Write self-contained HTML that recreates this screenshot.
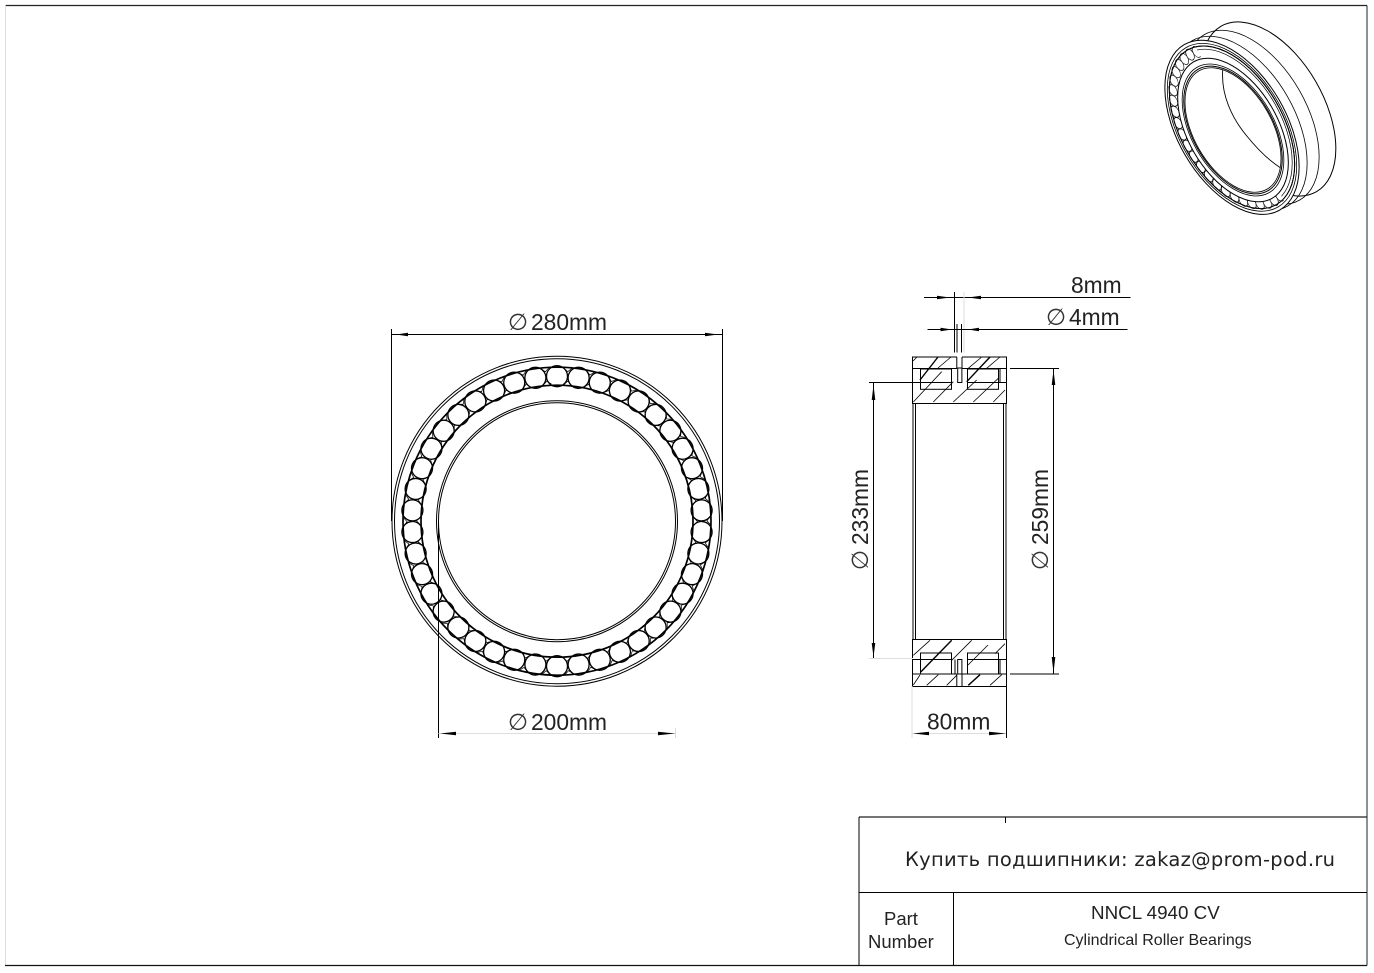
<!DOCTYPE html>
<html><head><meta charset="utf-8"><title>NNCL 4940 CV</title>
<style>
html,body{margin:0;padding:0;background:#fff;width:1374px;height:973px;overflow:hidden}
svg{display:block}
text{font-family:"Liberation Sans",sans-serif;fill:#222}
.d{font-size:22.8px}
.p{font-family:"DejaVu Sans",sans-serif;font-size:23px;fill:#333}
.n *{vector-effect:non-scaling-stroke}
line,path,rect,circle,ellipse{stroke:#000;stroke-width:1;fill:none}
.a{fill:#000;stroke:none}
.f{stroke:#ddd}
.h line{stroke-width:.8}
.h .b{stroke-width:1.4}
</style></head><body>
<svg width="1374" height="973" viewBox="0 0 1374 973" xmlns="http://www.w3.org/2000/svg">
<defs>
<g id="r"><circle cx="0" cy="-145" r="10.5" style="fill:#fff;stroke-width:1.3"/><path d="M6.5-153.5 10.8-149.5 15-153M6.5-136.5 10.8-140 15-136.5" style="stroke-width:.7"/></g>
<g id="rs">
<use href="#r"/><use href="#r" transform="rotate(8.571)"/><use href="#r" transform="rotate(17.143)"/><use href="#r" transform="rotate(25.714)"/><use href="#r" transform="rotate(34.286)"/><use href="#r" transform="rotate(42.857)"/><use href="#r" transform="rotate(51.429)"/>
<use href="#r" transform="rotate(60)"/><use href="#r" transform="rotate(68.571)"/><use href="#r" transform="rotate(77.143)"/><use href="#r" transform="rotate(85.714)"/><use href="#r" transform="rotate(94.286)"/><use href="#r" transform="rotate(102.857)"/><use href="#r" transform="rotate(111.429)"/>
<use href="#r" transform="rotate(120)"/><use href="#r" transform="rotate(128.571)"/><use href="#r" transform="rotate(137.143)"/><use href="#r" transform="rotate(145.714)"/><use href="#r" transform="rotate(154.286)"/><use href="#r" transform="rotate(162.857)"/><use href="#r" transform="rotate(171.429)"/>
<use href="#r" transform="rotate(180)"/><use href="#r" transform="rotate(188.571)"/><use href="#r" transform="rotate(197.143)"/><use href="#r" transform="rotate(205.714)"/><use href="#r" transform="rotate(214.286)"/><use href="#r" transform="rotate(222.857)"/><use href="#r" transform="rotate(231.429)"/>
<use href="#r" transform="rotate(240)"/><use href="#r" transform="rotate(248.571)"/><use href="#r" transform="rotate(257.143)"/><use href="#r" transform="rotate(265.714)"/><use href="#r" transform="rotate(274.286)"/><use href="#r" transform="rotate(282.857)"/><use href="#r" transform="rotate(291.429)"/>
<use href="#r" transform="rotate(300)"/><use href="#r" transform="rotate(308.571)"/><use href="#r" transform="rotate(317.143)"/><use href="#r" transform="rotate(325.714)"/><use href="#r" transform="rotate(334.286)"/><use href="#r" transform="rotate(342.857)"/><use href="#r" transform="rotate(351.429)"/>
</g>
<clipPath id="cr"><rect x="-170" y="-170" width="195" height="340"/></clipPath>
</defs>

<!-- frame -->
<line x1="5.5" y1="5.5" x2="1367" y2="5.5" style="stroke:#222;stroke-width:1.3"/>
<line x1="5.5" y1="5.5" x2="5.5" y2="965.5" style="stroke:#ddd"/>
<line x1="5" y1="965.5" x2="1367" y2="965.5" style="stroke:#111;stroke-width:1.3"/>
<line x1="1367" y1="5.5" x2="1367" y2="965.5" style="stroke:#222"/>

<!-- front view -->
<g transform="translate(557,521.2)">
<circle r="165"/><circle r="162.5"/>
<use href="#rs"/>
<circle r="154" style="stroke-width:1.7"/><circle r="136" style="stroke-width:1.7"/>
<circle r="120.5"/><circle r="118.5"/>
</g>

<!-- dim 280 -->
<line x1="391.5" y1="329" x2="391.5" y2="521"/><line x1="722.5" y1="329" x2="722.5" y2="521"/>
<line x1="391.5" y1="334.5" x2="722.5" y2="334.5"/>
<path class="a" d="M396 334.5 408 332.7V336.3ZM718 334.5 705 332.7V336.3Z"/>
<text x="531" y="330" class="d">280mm</text>
<text x="508" y="330" class="p">∅</text>

<!-- dim 200 -->
<line x1="438.5" y1="521" x2="438.5" y2="738"/>
<line x1="438.5" y1="733.5" x2="675" y2="733.5" class="f"/>
<line x1="675.5" y1="728" x2="675.5" y2="738" class="f"/>
<path class="a" d="M440 733.5 456 731.7V735.3ZM675 733.5 658 731.7V735.3Z"/>
<text x="531" y="730" class="d">200mm</text>
<text x="508" y="730" class="p">∅</text>

<!-- side view -->
<rect x="912.5" y="357" width="94" height="46.5"/>
<rect x="912.5" y="639.5" width="94" height="47"/>
<line x1="913" y1="403" x2="913" y2="640"/><line x1="915.5" y1="403" x2="915.5" y2="640"/>
<line x1="1003.5" y1="403" x2="1003.5" y2="640"/><line x1="1006" y1="403" x2="1006" y2="640"/>

<g class="h">
<line x1="913" y1="361" x2="917" y2="357"/>
<line class="b" x1="920" y1="380" x2="938" y2="357"/>
<line x1="913.3" y1="402" x2="941.7" y2="371.7"/>
<line x1="933.3" y1="402" x2="953.3" y2="381.7"/>
<line x1="953.3" y1="402" x2="976.7" y2="380"/>
<line x1="968.3" y1="368.3" x2="981.7" y2="357"/>
<line class="b" x1="966.7" y1="381.7" x2="990" y2="357"/>
<line x1="973.3" y1="402" x2="998.3" y2="378.3"/>
<line x1="993.3" y1="402" x2="1005" y2="390"/>
<line x1="986.7" y1="368.3" x2="1000" y2="357"/>
<line x1="938" y1="368" x2="951" y2="357"/>
<line x1="913.3" y1="655.3" x2="930" y2="640.3"/>
<line class="b" x1="920.7" y1="672" x2="951.7" y2="640.3"/>
<line x1="951.7" y1="660.3" x2="971.7" y2="640.3"/>
<line x1="968" y1="665" x2="988" y2="645"/>
<line x1="995" y1="653.7" x2="1005" y2="643.7"/>
<line x1="913.3" y1="685" x2="920" y2="675"/>
<line x1="926.7" y1="685.3" x2="938.3" y2="674.7"/>
<line x1="946.7" y1="685.3" x2="956.7" y2="675.3"/>
<line class="b" x1="968.3" y1="685.3" x2="980" y2="674.7"/>
<line x1="990" y1="685.3" x2="1001.7" y2="674.7"/>
</g>

<!-- top section details -->
<rect x="957" y="356" width="5" height="13" style="fill:#fff;stroke:none"/>
<rect x="957.7" y="368" width="4.2" height="14.5" style="fill:#fff"/>
<line x1="956.8" y1="357" x2="956.8" y2="368.5"/><line x1="962" y1="357" x2="962" y2="368.5"/>
<line x1="912.5" y1="368.5" x2="957" y2="368.5"/><line x1="962" y1="368.5" x2="1006" y2="368.5"/>
<line x1="912.5" y1="382.5" x2="952" y2="382.5"/><line x1="967" y1="382.5" x2="1006" y2="382.5"/>
<rect x="920.5" y="369" width="31" height="20.3"/><rect x="967.5" y="369" width="31" height="20.3"/>
<line x1="1000" y1="368.5" x2="1000" y2="382.5"/>

<!-- bottom section details -->
<rect x="957" y="674" width="5" height="12" style="fill:#fff;stroke:none"/>
<rect x="957.7" y="659.5" width="4.2" height="14.5" style="fill:#fff"/>
<line x1="956.8" y1="674" x2="956.8" y2="686"/><line x1="962" y1="674" x2="962" y2="686"/>
<line x1="912.5" y1="659.5" x2="952" y2="659.5"/><line x1="967" y1="659.5" x2="1006" y2="659.5"/>
<line x1="912.5" y1="674" x2="957" y2="674"/><line x1="962" y1="674" x2="1006" y2="674"/>
<rect x="920.5" y="653" width="31" height="21"/><rect x="967.5" y="653" width="31" height="21"/>
<line x1="1000" y1="659.5" x2="1000" y2="674"/>
<line x1="955" y1="659.5" x2="955" y2="674"/>

<!-- dim 8 / 4 -->
<line x1="924" y1="297.5" x2="1130.5" y2="297.5"/>
<line x1="954.5" y1="292" x2="954.5" y2="352.5"/>
<line x1="964" y1="292" x2="964" y2="352.5" class="f"/>
<path class="a" d="M950 297.5 937 295.7V299.3ZM968 297.5 981 295.7V299.3Z"/>
<text x="1071" y="293" class="d">8mm</text>
<line x1="927.5" y1="329.5" x2="1127.5" y2="329.5"/>
<line x1="957" y1="324" x2="957" y2="352.5"/><line x1="961.5" y1="324" x2="961.5" y2="352.5"/>
<path class="a" d="M952 329.5 940.5 327.7V331.3ZM968 329.5 979 327.7V331.3Z"/>
<text x="1069" y="325" class="d">4mm</text>
<text x="1046" y="325" class="p">∅</text>

<!-- dim 233 -->
<line x1="869" y1="382.5" x2="952" y2="382.5"/>
<line x1="869" y1="658.5" x2="913" y2="658.5" class="f"/>
<line x1="873.5" y1="383" x2="873.5" y2="658"/>
<path class="a" d="M873.5 385 871.7 400H875.3ZM873.5 657 871.7 643H875.3Z"/>
<text transform="translate(868,545) rotate(-90)" class="d">233mm</text>
<text transform="translate(868,570) rotate(-90)" class="p">∅</text>

<!-- dim 259 -->
<line x1="1010" y1="368.5" x2="1059" y2="368.5"/>
<line x1="1010" y1="674" x2="1059" y2="674"/>
<line x1="1053.5" y1="368.5" x2="1053.5" y2="674"/>
<path class="a" d="M1053.5 370 1051.7 385H1055.3ZM1053.5 673 1051.7 657H1055.3Z"/>
<text transform="translate(1048,545) rotate(-90)" class="d">259mm</text>
<text transform="translate(1048,570) rotate(-90)" class="p">∅</text>

<!-- dim 80 -->
<line x1="912" y1="686" x2="912" y2="738" class="f"/>
<line x1="1006.5" y1="686" x2="1006.5" y2="738"/>
<line x1="912" y1="733.5" x2="1006" y2="733.5" class="f"/>
<path class="a" d="M913 733.5 929 731.7V735.3ZM1006 733.5 989 731.7V735.3Z"/>
<text x="927" y="729.5" class="d">80mm</text>

<!-- isometric view -->
<g class="n" transform="translate(1268.7,109) rotate(-30) scale(.3303,.5788)"><circle r="165" style="fill:#fff"/></g>
<g class="n" transform="translate(1252,117.3) rotate(-30) scale(.3303,.5788)"><circle r="165" style="stroke-width:.8"/></g>
<g class="n" transform="translate(1240,123.3) rotate(-30) scale(.3303,.5788)"><circle r="165" style="stroke-width:.8"/></g>
<g class="n" transform="translate(1232,127.3) rotate(-30) scale(.3303,.5788)">
<circle r="165" style="fill:#fff"/><circle r="159" style="stroke-width:.8"/>
<circle r="154" style="fill:#fff"/>
<circle r="148" style="stroke-width:.7"/>
<g clip-path="url(#cr)" style="stroke-width:.6"><use href="#rs"/></g>
<circle r="154"/>
</g>
<g class="n" transform="translate(1233,130) rotate(-30) scale(.3303,.5788)">
<circle r="136" style="fill:#fff"/>
<circle r="125" style="stroke-width:.8"/><circle r="121" style="fill:#fff"/><circle r="118" style="stroke-width:.8"/>
</g>
<path d="M1222.7 70C1221 95 1232 118 1246 135 1258 150 1270 161 1280 167.5" style="stroke-width:.9"/>

<!-- title block -->
<line x1="859" y1="817" x2="1367" y2="817" style="stroke:#222;stroke-width:1.2"/>
<line x1="859" y1="817" x2="859" y2="965"/>
<line x1="859" y1="892.5" x2="1367" y2="892.5" style="stroke-width:.9"/>
<line x1="953.5" y1="892.5" x2="953.5" y2="965"/>
<line x1="1005.5" y1="817" x2="1005.5" y2="823"/>
<text x="905" y="866" textLength="430" lengthAdjust="spacing" style="font-family:'DejaVu Sans',sans-serif;font-size:19.5px">Купить подшипники: zakaz@prom-pod.ru</text>
<text x="884" y="925" style="font-size:18.5px">Part</text>
<text x="868" y="948" style="font-size:18.5px">Number</text>
<text x="1091" y="919" style="font-size:18.8px">NNCL 4940 CV</text>
<text x="1064" y="945" style="font-size:16px">Cylindrical Roller Bearings</text>
</svg>
</body></html>
